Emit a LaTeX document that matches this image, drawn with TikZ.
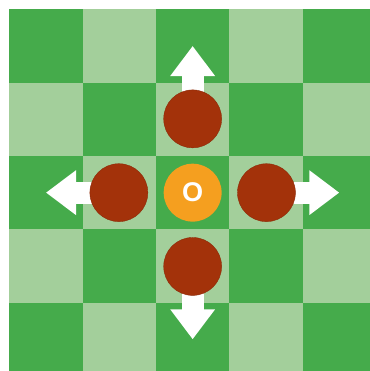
\documentclass[tikz,border=0pt]{standalone}
\usepackage{fontspec}
\setsansfont{Liberation Sans}
\usetikzlibrary{arrows.meta,positioning}
\definecolor{darksq}{HTML}{45AB4B}
\definecolor{lightsq}{HTML}{A3CF9B}
\definecolor{stone}{HTML}{A3320A}
\definecolor{king}{HTML}{F59F1F}
\pgfdeclarelayer{board}
\pgfdeclarelayer{moves}
\pgfsetlayers{board,moves,main}
\tikzset{
  piece/.style={circle, fill=stone, draw=stone!85!black, line width=0.3pt,
                minimum size=1.58cm, inner sep=0pt},
  origin/.style={circle, fill=king, minimum size=1.58cm, inner sep=0pt,
                 text=white, font=\sffamily\bfseries\fontsize{21}{24}\selectfont},
  move/.style={-{Triangle[width=1.17cm,length=0.82cm]}, line width=0.6cm, draw=white}
}
\begin{document}
\begin{tikzpicture}
  \useasboundingbox (-0.254,0.254) rectangle (9.836,-9.864);
  \clip (-0.254,0.254) rectangle (9.836,-9.864);
  % board
  \begin{pgfonlayer}{board}
    \fill[white] (-0.254,0.254) rectangle (9.836,-9.864);
    \foreach \i in {0,...,4}
      \foreach \j in {0,...,4} {
        \pgfmathparse{mod(\i+\j,2)==0 ? "darksq" : "lightsq"}
        \fill[\pgfmathresult] (2*\i,-2*\j) rectangle ++(2,-2);
      }
  \end{pgfonlayer}
  % pieces
  \node[origin] (o) at (5,-5) {O};
  \node[piece, above=0.42cm of o] (up) {};
  \node[piece, below=0.42cm of o] (down) {};
  \node[piece, left=0.42cm of o] (left) {};
  \node[piece, right=0.42cm of o] (right) {};
  % moves
  \coordinate (up-end) at (5,-1);
  \coordinate (down-end) at (5,-9);
  \coordinate (left-end) at (1,-5);
  \coordinate (right-end) at (9,-5);
  \begin{pgfonlayer}{moves}
    \foreach \d in {up,down,left,right}
      \draw[move] (\d.center) -- (\d-end);
  \end{pgfonlayer}
\end{tikzpicture}
\end{document}
